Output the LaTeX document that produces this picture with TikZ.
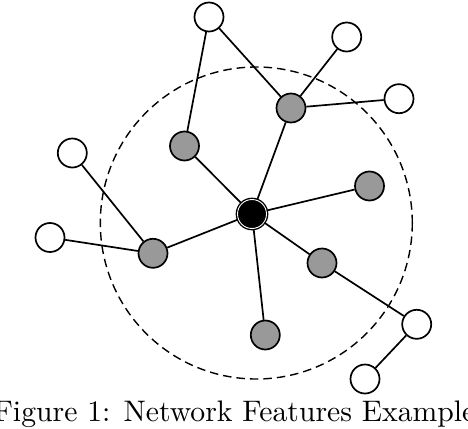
\documentclass[tikz,border=0pt]{standalone}
\usepackage{graphicx}
\begin{document}
\begin{tikzpicture}[x=1pt,y=-1pt,
  nd/.style={circle,draw=black,line width=1.7pt,minimum size=29pt,inner sep=0pt},
  whitend/.style={nd,fill=white},
  graynd/.style={nd,fill=black!40},
  hubnd/.style={nd,fill=black,double=white,double distance=0.9pt,line width=1.4pt},
  edge/.style={line width=1.7pt},
  zone/.style={dashed,line width=1.4pt,dash pattern=on 8.5pt off 5pt}]
\useasboundingbox (0,0) rectangle (468,428);
\coordinate (zc) at (256.3,223);
\draw[zone] (zc) circle (156);
% nodes
\node[hubnd] (h) at (252,214) {};
\node[graynd] (g1) at (184.5,146) {};
\node[graynd] (g2) at (291,108) {};
\node[graynd] (g3) at (369.5,186) {};
\node[graynd] (g4) at (322,263) {};
\node[graynd] (g5) at (265.3,335) {};
\node[graynd] (g6) at (153,253.3) {};
\node[whitend] (w1) at (209,17) {};
\node[whitend] (w2) at (346.7,37) {};
\node[whitend] (w3) at (399,98.7) {};
\node[whitend] (w4) at (72.3,153) {};
\node[whitend] (w5) at (50,237.5) {};
\node[whitend] (w6) at (416.7,324.3) {};
\node[whitend] (w7) at (365,379) {};
% edges
\foreach \a/\b in {h/g1,h/g2,h/g3,h/g4,h/g5,h/g6,g1/w1,w1/g2,g2/w2,g2/w3,g6/w4,g6/w5,g4/w6,w6/w7}
  \draw[edge] (\a) -- (\b);
% caption
\node[anchor=base,inner sep=0pt] (cap) at (234.5,421) {\scalebox{2.97}{Figure 1: Network Features Example}};
\end{tikzpicture}
\end{document}
